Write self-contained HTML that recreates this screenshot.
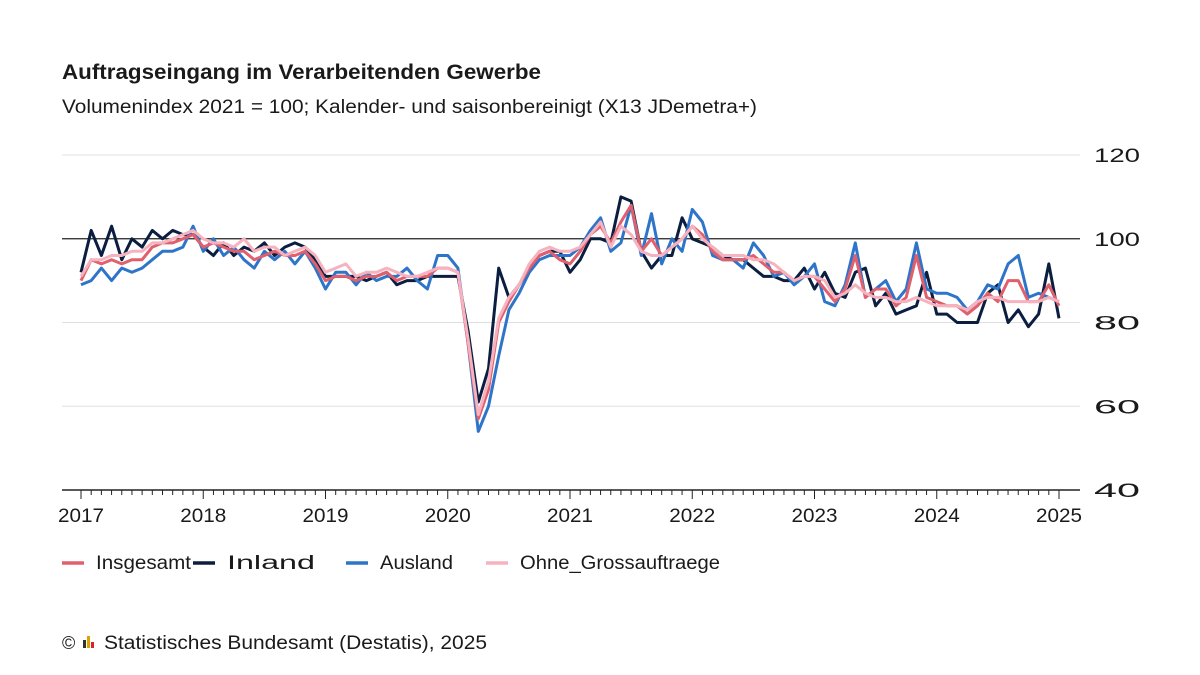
<!DOCTYPE html>
<html><head><meta charset="utf-8"><style>
body{margin:0;background:#fff;font-family:"Liberation Sans","DejaVu Sans",sans-serif;color:#1a1a1a}
#wrap{position:relative;width:1200px;height:675px;overflow:hidden}
</style></head><body>
<div id="wrap">
<svg id="chart" width="1200" height="675"></svg>
</div>
<script>
const years=["2017","2018","2019","2020","2021","2022","2023","2024","2025"];
const yTicks=[40,60,80,100,120];
const insgesamt=[90,95,94,95,94,95,95,98,99,99,100,101, 98,99,98,97,97,95,96,97,96,96,97,94, 90,91,91,90,91,91,92,90,91,91,91,93, 93,92,75,57,64,80,85,89,93,96,97,95, 94,97,101,103,99,104,108,97,100,96,98,100, 103,101,97,95,95,95,96,94,92,92,90,91, 91,88,85,88,96,86,88,88,84,86,96,86, 85,84,84,82,84,87,85,90,90,85,85,89, 84];
const inland=[92,102,96,103,95,100,98,102,100,102,101,101, 98,96,99,96,98,97,99,96,98,99,98,95, 91,91,91,91,90,91,92,89,90,90,91,91, 91,91,78,61,69,93,86,89,93,96,97,97, 92,95,100,100,99,110,109,97,93,96,96,105, 100,99,98,96,95,95,93,91,91,90,90,93, 88,92,87,86,92,93,84,87,82,83,84,92, 82,82,80,80,80,87,89,80,83,79,82,94, 81];
const ausland=[89,90,93,90,93,92,93,95,97,97,98,103, 97,100,96,98,95,93,97,95,97,94,97,93, 88,92,92,89,92,90,91,91,93,90,88,96, 96,93,75,54,60,72,83,87,92,95,96,96, 96,98,102,105,97,99,108,96,106,94,100,97, 107,104,96,95,95,93,99,96,91,92,89,91, 94,85,84,89,99,86,88,90,85,88,99,88, 87,87,86,83,85,89,88,94,96,86,87,86, 85];
const ohne=[91,95,95,96,96,97,97,99,99,100,101,102, 100,99,99,98,100,97,98,98,96,97,98,96, 92,93,94,91,92,92,93,92,91,91,92,93, 93,92,76,58,66,81,86,89,94,97,98,97, 97,98,101,104,98,103,101,97,96,96,98,100, 103,100,98,96,96,96,95,95,94,92,90,91, 91,90,86,87,89,87,86,86,85,85,86,85, 84,84,84,83,85,86,86,85,85,85,85,86, 85];
const seriesNames=["Insgesamt","Inland","Ausland","Ohne_Grossauftraege"];
const NS="http://www.w3.org/2000/svg";
const svg=document.getElementById('chart');
const X=m=>81+m*(1059-81)/96;
const Y=v=>490-(v-40)*(490-155)/80;
function el(t,a,txt){const e=document.createElementNS(NS,t);for(const k in a)e.setAttribute(k,a[k]);if(txt!==undefined)e.textContent=txt;svg.appendChild(e);return e;}
function fit(e,w){e.setAttribute('textLength',w);e.setAttribute('lengthAdjust','spacingAndGlyphs');}
let e;
e=el('text',{x:62,y:79,'font-size':21,'font-weight':'bold',fill:'#1a1a1a'},'Auftragseingang im Verarbeitenden Gewerbe');fit(e,479);

e=el('text',{x:62,y:113,'font-size':19,fill:'#1a1a1a'},'Volumenindex 2021 = 100; Kalender- und saisonbereinigt (X13 JDemetra+)');fit(e,695);

yTicks.forEach(v=>{
 if(v!==40&&v!==100){e=el('line',{x1:62,x2:1080,y1:Y(v),y2:Y(v),stroke:'#e0e0e0','stroke-width':1});
 }
 e=el('text',{x:1140,y:Y(v)+7,'font-size':19,'text-anchor':'end',fill:'#1a1a1a'},String(v));fit(e,46);
 
});
e=el('line',{x1:62,x2:1080,y1:Y(100),y2:Y(100),stroke:'#222','stroke-width':1.3});

e=el('line',{x1:62,x2:1080,y1:490,y2:490,stroke:'#222','stroke-width':1.5});

for(let m=0;m<=96;m++){
 const big=m%12===0;
 e=el('line',{x1:X(m),x2:X(m),y1:490,y2:big?499:495,stroke:'#222','stroke-width':1});
 
}
years.forEach((yr,i)=>{
 e=el('text',{x:X(i*12),y:522,'font-size':19,'text-anchor':'middle',fill:'#1a1a1a'},yr);fit(e,46);
 
});
const colors=['#e0606e','#0b1e3f','#2e75c9','#f6b3bf'];
const data=[insgesamt,inland,ausland,ohne];
const order=[1,2,0,3];
order.forEach(s=>{
 const d=data[s].map((v,i)=>(i?'L':'M')+X(i).toFixed(1)+','+Y(v).toFixed(1)).join('');
 e=el('path',{d:d,fill:'none',stroke:colors[s],'stroke-width':3,'stroke-linejoin':'round'});
 
});
const lx=[62,193,346,486];
const lw=[95,88,73,200];
seriesNames.forEach((n,i)=>{
 e=el('line',{x1:lx[i],x2:lx[i]+22,y1:563,y2:563,stroke:colors[i],'stroke-width':3.5});
 
 e=el('text',{x:lx[i]+34,y:569,'font-size':19,fill:'#1a1a1a'},n);fit(e,lw[i]);
 
});
e=el('text',{x:62,y:649,'font-size':18,fill:'#1a1a1a'},'©');

[['#333',0,8],['#d9a400',1,12],['#d62728',2,6]].forEach(([c,i,h])=>{
 e=el('rect',{x:83+i*4,y:648-h,width:3,height:h,fill:c});
 
});
e=el('text',{x:104,y:649,'font-size':19,fill:'#1a1a1a'},'Statistisches Bundesamt (Destatis), 2025');fit(e,383);

</script>
</body></html>
